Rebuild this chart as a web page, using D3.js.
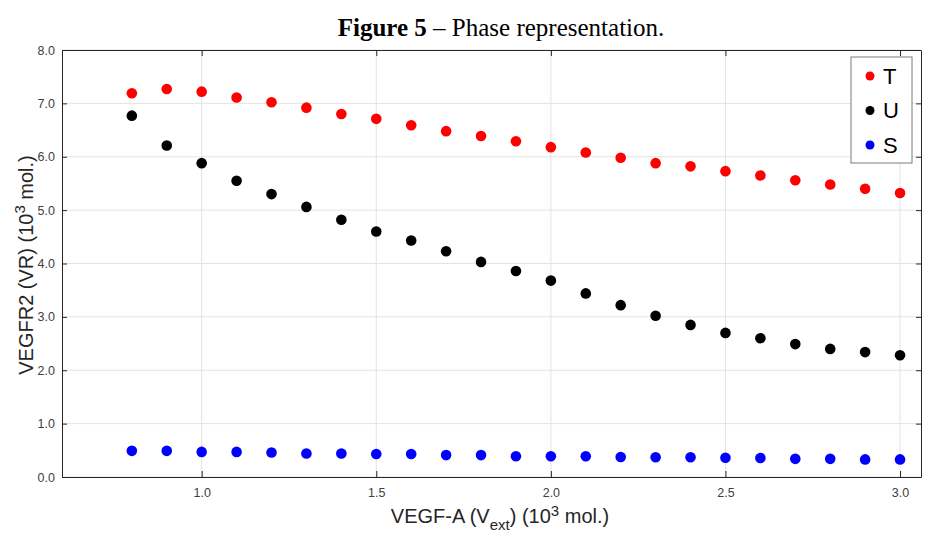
<!DOCTYPE html>
<html>
<head>
<meta charset="utf-8">
<script src="https://cdn.jsdelivr.net/npm/d3@7"></script>
<style>
  body { margin: 0; background: #fff; }
  text { font-family: "Liberation Sans", Arial, sans-serif; }
</style>
</head>
<body>
<svg id="chart" width="926" height="538"></svg>
<script>
var xVals = [0.8, 0.9, 1.0, 1.1, 1.2, 1.3, 1.4, 1.5, 1.6, 1.7, 1.8, 1.9,
             2.0, 2.1, 2.2, 2.3, 2.4, 2.5, 2.6, 2.7, 2.8, 2.9, 3.0];
var tVals = [7.19, 7.27, 7.22, 7.11, 7.02, 6.92, 6.80, 6.71, 6.59, 6.48, 6.39, 6.29,
             6.18, 6.08, 5.98, 5.88, 5.82, 5.73, 5.65, 5.56, 5.48, 5.40, 5.32];
var uVals = [6.77, 6.21, 5.88, 5.55, 5.30, 5.06, 4.82, 4.60, 4.43, 4.23, 4.03, 3.86,
             3.68, 3.44, 3.22, 3.02, 2.85, 2.70, 2.60, 2.49, 2.40, 2.34, 2.28];
var sVals = [0.49, 0.49, 0.47, 0.47, 0.46, 0.44, 0.44, 0.43, 0.43, 0.41, 0.41, 0.39,
             0.39, 0.39, 0.375, 0.37, 0.37, 0.36, 0.355, 0.34, 0.34, 0.33, 0.33];
var seriesNames = ["T", "U", "S"];
var seriesColors = ["#ff0000", "#000000", "#0000ff"];
var xTicks = [1.0, 1.5, 2.0, 2.5, 3.0];
var yTicks = [0, 1, 2, 3, 4, 5, 6, 7, 8];

var svg = d3.select("#chart"),
    margin = {top: 50, right: 5, bottom: 61, left: 62},
    width = +svg.attr("width") - margin.left - margin.right,
    height = +svg.attr("height") - margin.top - margin.bottom,
    g = svg.append("g").attr("transform", "translate(" + margin.left + "," + margin.top + ")");

var x = d3.scaleLinear().domain([0.6, 3.06]).range([0, width]);
var y = d3.scaleLinear().domain([0, 8]).range([height, 0]);

// grid
g.append("g").selectAll("line").data(xTicks).enter().append("line")
    .attr("x1", function(d) { return x(d); }).attr("x2", function(d) { return x(d); })
    .attr("y1", 0).attr("y2", height)
    .attr("stroke", "#e3e3e3");
g.append("g").selectAll("line").data(yTicks).enter().append("line")
    .attr("x1", 0).attr("x2", width)
    .attr("y1", function(d) { return y(d); }).attr("y2", function(d) { return y(d); })
    .attr("stroke", "#e3e3e3");

// axes (MATLAB style, ticks inward, box all round)
var axisColor = "#262626";
function styleAxis(sel) {
  sel.select(".domain").attr("stroke", axisColor);
  sel.selectAll(".tick line").attr("stroke", axisColor);
  sel.selectAll(".tick text").attr("fill", "#404040").style("font-size", "12.5px");
}
g.append("g")
    .attr("transform", "translate(0," + height + ")")
    .call(d3.axisBottom(x).tickValues(xTicks).tickSizeInner(-6).tickSizeOuter(0)
        .tickPadding(11).tickFormat(d3.format(".1f")))
    .call(styleAxis);
g.append("g")
    .call(d3.axisTop(x).tickValues(xTicks).tickSizeInner(-6).tickSizeOuter(0)
        .tickFormat(""))
    .call(styleAxis);
g.append("g")
    .call(d3.axisLeft(y).tickValues(yTicks).tickSizeInner(-5).tickSizeOuter(0)
        .tickPadding(7).tickFormat(d3.format(".1f")))
    .call(styleAxis);
g.append("g")
    .attr("transform", "translate(" + width + ",0)")
    .call(d3.axisRight(y).tickValues(yTicks).tickSizeInner(-5).tickSizeOuter(0)
        .tickFormat(""))
    .call(styleAxis);

// points
var allSeries = [tVals, uVals, sVals];
allSeries.forEach(function(vals, i) {
  g.append("g").selectAll("circle").data(vals).enter().append("circle")
      .attr("cx", function(d, j) { return x(xVals[j]); })
      .attr("cy", function(d) { return y(d); })
      .attr("r", 5.3)
      .attr("fill", seriesColors[i]);
});

// legend
var legend = svg.append("g").attr("transform", "translate(851,57)");
legend.append("rect")
    .attr("width", 61).attr("height", 106)
    .attr("fill", "#fff").attr("stroke", "#7a7a7a");
seriesNames.forEach(function(name, i) {
  legend.append("circle")
      .attr("cx", 19).attr("cy", 19 + i * 34.5).attr("r", 4.5)
      .attr("fill", seriesColors[i]);
  legend.append("text")
      .attr("x", 32).attr("y", 19 + i * 34.5).attr("dy", "0.36em")
      .style("font-size", "22px").attr("fill", "#000")
      .text(name);
});

// axis labels
svg.append("text")
    .attr("x", 500).attr("y", 523)
    .attr("text-anchor", "middle")
    .style("font-size", "20px").attr("fill", "#262626")
    .html('VEGF-A (V<tspan dy="7" style="font-size:15px">ext</tspan><tspan dy="-7">) (10</tspan><tspan dy="-7" style="font-size:15px">3</tspan><tspan dy="7"> mol.)</tspan>');

svg.append("text")
    .attr("transform", "translate(33,265) rotate(-90)")
    .attr("text-anchor", "middle")
    .style("font-size", "20px").attr("fill", "#262626")
    .html('VEGFR2 (VR) (10<tspan dy="-8" style="font-size:15px">3</tspan><tspan dy="8"> mol.)</tspan>');

// title
svg.append("text")
    .attr("x", 501).attr("y", 36)
    .attr("text-anchor", "middle")
    .style("font-family", "'Liberation Serif', 'Times New Roman', serif")
    .style("font-size", "25px").attr("fill", "#000")
    .html('<tspan font-weight="bold">Figure 5</tspan> – Phase representation.');
</script>
</body>
</html>
